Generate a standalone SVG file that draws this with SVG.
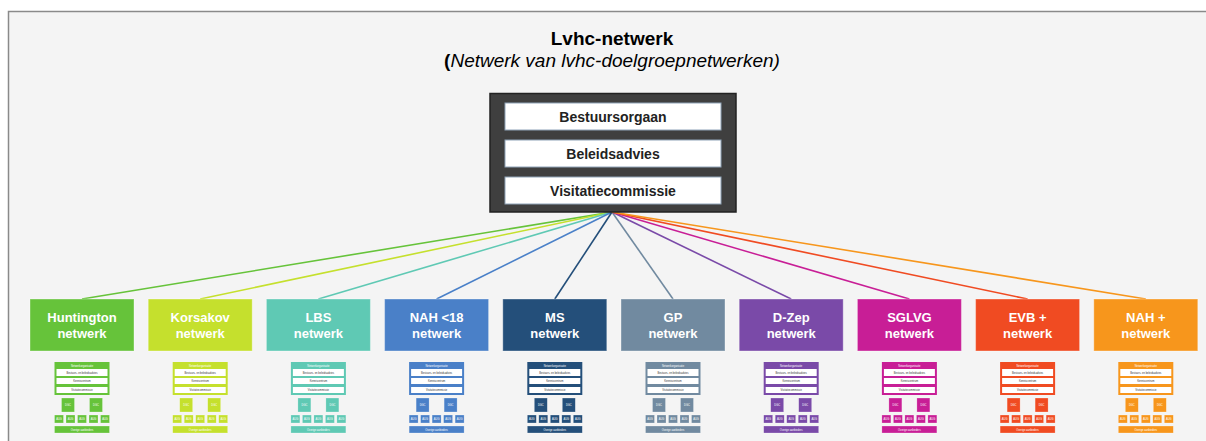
<svg xmlns="http://www.w3.org/2000/svg" width="1206" height="441" viewBox="0 0 1206 441">
<style>
.title{font-family:"Liberation Sans",Arial,sans-serif;font-size:19px;font-weight:bold;fill:#000;text-anchor:middle}
.sub{font-family:"Liberation Sans",Arial,sans-serif;font-size:19px;font-style:italic;fill:#000;text-anchor:middle}
.bar{fill:#fff;stroke:#8fa3b8;stroke-width:1}
.bt{font-family:"Liberation Sans",Arial,sans-serif;font-size:14px;font-weight:bold;fill:#222;text-anchor:middle}
.nt{font-family:"Liberation Sans",Arial,sans-serif;font-size:13px;font-weight:bold;fill:#fff;text-anchor:middle}
.nb{stroke:#fff;stroke-opacity:0.35;stroke-width:1}
.conn line{stroke-width:1.6;fill:none}
.mt{font-family:"Liberation Sans",Arial,sans-serif;font-size:2.6px;fill:#fff;text-anchor:middle}
.md{font-family:"Liberation Sans",Arial,sans-serif;font-size:2.6px;fill:#333;text-anchor:middle}
.mw{fill:#fff}
.ms{stroke:#fff;stroke-opacity:0.5;stroke-width:0.5}
</style>
<defs>
<g id="mini">
<rect x="0" y="0" width="55" height="33" fill="currentColor"/>
<text class="mt" x="27.5" y="5">Netwerkorganisatie</text>
<rect class="mw" x="2" y="7" width="51" height="7"/>
<text class="md" x="27.5" y="11.5">Bestuurs- en beleidsadvies</text>
<rect class="mw" x="2" y="16" width="51" height="6"/>
<text class="md" x="27.5" y="20">Kenniscentrum</text>
<rect class="mw" x="2" y="25" width="51" height="6"/>
<text class="md" x="27.5" y="29">Visitatiecommissie</text>
<rect class="ms" x="7" y="36" width="13" height="14" fill="currentColor"/>
<text class="mt" x="13.5" y="44">DGC</text>
<rect class="ms" x="35" y="36" width="13" height="14" fill="currentColor"/>
<text class="mt" x="41.5" y="44">DGC</text>
<rect class="ms" x="0" y="53" width="9" height="8" fill="currentColor"/>
<text class="mt" x="4.5" y="58">AUG</text>
<rect class="ms" x="11.5" y="53" width="9" height="8" fill="currentColor"/>
<text class="mt" x="16" y="58">AUG</text>
<rect class="ms" x="23" y="53" width="9" height="8" fill="currentColor"/>
<text class="mt" x="27.5" y="58">AUG</text>
<rect class="ms" x="34.5" y="53" width="9" height="8" fill="currentColor"/>
<text class="mt" x="39" y="58">AUG</text>
<rect class="ms" x="46" y="53" width="9" height="8" fill="currentColor"/>
<text class="mt" x="50.5" y="58">AUG</text>
<rect class="ms" x="0" y="64" width="55" height="7" fill="currentColor"/>
<text class="mt" x="27.5" y="68.5">Overige aanbieders</text>
</g>
</defs>
<rect x="0" y="0" width="1206" height="441" fill="#fff"/>
<rect x="8.5" y="11.5" width="1210" height="440" fill="#f4f4f4" stroke="#8a8a8a" stroke-width="1.5"/>
<text class="title" x="612" y="45">Lvhc-netwerk</text>
<text class="sub" x="612" y="67"><tspan font-weight="bold" font-style="normal">(</tspan>Netwerk van lvhc-doelgroepnetwerken)</text>

<g class="conn">
<line x1="612" y1="212" x2="82" y2="299" stroke="#66c33a"/>
<line x1="612" y1="212" x2="200.2" y2="299" stroke="#c5e02d"/>
<line x1="612" y1="212" x2="318.4" y2="299" stroke="#5fc9b4"/>
<line x1="612" y1="212" x2="436.6" y2="299" stroke="#4a80c8"/>
<line x1="612" y1="212" x2="554.8" y2="299" stroke="#244f7a"/>
<line x1="612" y1="212" x2="673" y2="299" stroke="#718aa0"/>
<line x1="612" y1="212" x2="791.2" y2="299" stroke="#7a4aa8"/>
<line x1="612" y1="212" x2="909.4" y2="299" stroke="#c81e96"/>
<line x1="612" y1="212" x2="1027.6" y2="299" stroke="#f04b22"/>
<line x1="612" y1="212" x2="1145.8" y2="299" stroke="#f7961c"/>
</g>

<g id="lvhc">
<rect x="490" y="93.5" width="246" height="118.5" fill="#3f3f3f" stroke="#222" stroke-width="1.5"/>
<rect class="bar" x="505" y="103" width="216" height="27"/>
<text class="bt" x="613" y="121.5">Bestuursorgaan</text>
<rect class="bar" x="505" y="140" width="216" height="27"/>
<text class="bt" x="613" y="158.5">Beleidsadvies</text>
<rect class="bar" x="505" y="177" width="216" height="27"/>
<text class="bt" x="613" y="195.5">Visitatiecommissie</text>
</g>

<g id="huntington" style="color:#66c33a">
<rect class="nb" x="30" y="299" width="104" height="52" fill="#66c33a"/>
<text class="nt" x="82" y="322">Huntington</text>
<text class="nt" x="82" y="338">netwerk</text>
<use href="#mini" x="54.5" y="362"/>
</g>
<g id="korsakov" style="color:#c5e02d">
<rect class="nb" x="148.2" y="299" width="104" height="52" fill="#c5e02d"/>
<text class="nt" x="200.2" y="322">Korsakov</text>
<text class="nt" x="200.2" y="338">netwerk</text>
<use href="#mini" x="172.7" y="362"/>
</g>
<g id="lbs" style="color:#5fc9b4">
<rect class="nb" x="266.4" y="299" width="104" height="52" fill="#5fc9b4"/>
<text class="nt" x="318.4" y="322">LBS</text>
<text class="nt" x="318.4" y="338">netwerk</text>
<use href="#mini" x="290.9" y="362"/>
</g>
<g id="nah18" style="color:#4a80c8">
<rect class="nb" x="384.6" y="299" width="104" height="52" fill="#4a80c8"/>
<text class="nt" x="436.6" y="322">NAH &lt;18</text>
<text class="nt" x="436.6" y="338">netwerk</text>
<use href="#mini" x="409.1" y="362"/>
</g>
<g id="ms" style="color:#244f7a">
<rect class="nb" x="502.8" y="299" width="104" height="52" fill="#244f7a"/>
<text class="nt" x="554.8" y="322">MS</text>
<text class="nt" x="554.8" y="338">netwerk</text>
<use href="#mini" x="527.3" y="362"/>
</g>
<g id="gp" style="color:#718aa0">
<rect class="nb" x="621" y="299" width="104" height="52" fill="#718aa0"/>
<text class="nt" x="673" y="322">GP</text>
<text class="nt" x="673" y="338">netwerk</text>
<use href="#mini" x="645.5" y="362"/>
</g>
<g id="dzep" style="color:#7a4aa8">
<rect class="nb" x="739.2" y="299" width="104" height="52" fill="#7a4aa8"/>
<text class="nt" x="791.2" y="322">D-Zep</text>
<text class="nt" x="791.2" y="338">netwerk</text>
<use href="#mini" x="763.7" y="362"/>
</g>
<g id="sglvg" style="color:#c81e96">
<rect class="nb" x="857.4" y="299" width="104" height="52" fill="#c81e96"/>
<text class="nt" x="909.4" y="322">SGLVG</text>
<text class="nt" x="909.4" y="338">netwerk</text>
<use href="#mini" x="881.9" y="362"/>
</g>
<g id="evb" style="color:#f04b22">
<rect class="nb" x="975.6" y="299" width="104" height="52" fill="#f04b22"/>
<text class="nt" x="1027.6" y="322">EVB +</text>
<text class="nt" x="1027.6" y="338">netwerk</text>
<use href="#mini" x="1000.1" y="362"/>
</g>
<g id="nahplus" style="color:#f7961c">
<rect class="nb" x="1093.8" y="299" width="104" height="52" fill="#f7961c"/>
<text class="nt" x="1145.8" y="322">NAH +</text>
<text class="nt" x="1145.8" y="338">netwerk</text>
<use href="#mini" x="1118.3" y="362"/>
</g>
</svg>
